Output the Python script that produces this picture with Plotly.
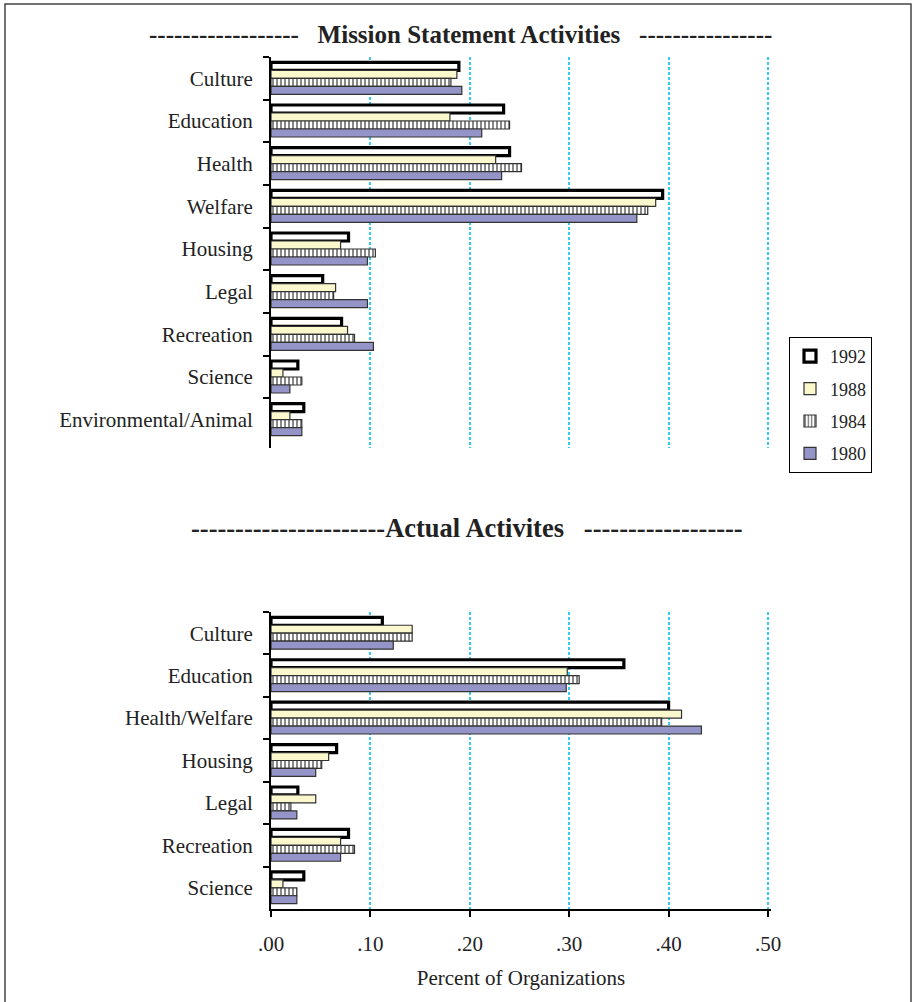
import plotly.graph_objects as go

# ---------------- data ----------------
years = ["1992", "1988", "1984", "1980"]

mission_categories = ["Culture", "Education", "Health", "Welfare", "Housing",
                      "Legal", "Recreation", "Science", "Environmental/Animal"]
mission_1992 = [0.189, 0.234, 0.240, 0.394, 0.078, 0.052, 0.071, 0.027, 0.033]
mission_1988 = [0.187, 0.180, 0.226, 0.387, 0.070, 0.065, 0.077, 0.012, 0.019]
mission_1984 = [0.181, 0.240, 0.252, 0.379, 0.105, 0.063, 0.084, 0.031, 0.031]
mission_1980 = [0.192, 0.212, 0.232, 0.368, 0.097, 0.097, 0.103, 0.019, 0.031]

actual_categories = ["Culture", "Education", "Health/Welfare", "Housing",
                     "Legal", "Recreation", "Science"]
actual_1992 = [0.112, 0.355, 0.400, 0.066, 0.027, 0.078, 0.033]
actual_1988 = [0.142, 0.298, 0.413, 0.058, 0.045, 0.070, 0.012]
actual_1984 = [0.142, 0.310, 0.393, 0.051, 0.020, 0.084, 0.026]
actual_1980 = [0.123, 0.297, 0.433, 0.045, 0.026, 0.070, 0.026]

x_tickvals = [0.0, 0.1, 0.2, 0.3, 0.4, 0.5]
x_ticktext = [".00", ".10", ".20", ".30", ".40", ".50"]

title_top = "------------------   Mission Statement Activities   ----------------"
title_bottom = "----------------------Actual Activites   ------------------"
x_title = "Percent of Organizations"

# ---------------- layout geometry ----------------
W, H = 914, 1002
ML, MR, MT, MB = 271, 143, 57, 93
PW, PH = W - ML - MR, H - MT - MB
X_MAX = 0.503  # small headroom so the .50 gridline is drawn


def px_x(px):
    return (px - ML) / PW


def px_y(py):
    return (H - MB - py) / PH


FONT = "Liberation Serif, Times New Roman, serif"
TXT = "#222222"

styles = {
    "1992": dict(color="white", line=dict(color="black", width=3.2)),
    "1988": dict(color="#FAF8CC", line=dict(color="#333333", width=1.2)),
    "1984": dict(color="white", line=dict(color="#333333", width=1.2),
                 pattern=dict(shape="|", fgcolor="#111111", bgcolor="white",
                              size=4, solidity=0.5)),
    "1980": dict(color="#9494C8", line=dict(color="#333333", width=1.2)),
}

mission_series = [mission_1992, mission_1988, mission_1984, mission_1980]
actual_series = [actual_1992, actual_1988, actual_1984, actual_1980]

fig = go.Figure()
for yr, vals in zip(years, mission_series):
    fig.add_trace(go.Bar(
        y=mission_categories, x=vals, orientation="h", name=yr,
        marker=styles[yr], xaxis="x", yaxis="y",
        legendgroup=yr, showlegend=True))
for yr, vals in zip(years, actual_series):
    fig.add_trace(go.Bar(
        y=actual_categories, x=vals, orientation="h", name=yr,
        marker=styles[yr], xaxis="x2", yaxis="y2",
        legendgroup=yr, showlegend=False))

grid_color = "#33CCF5"
common_x = dict(range=[0, X_MAX], showgrid=True, gridcolor=grid_color,
                griddash="3px,2px", gridwidth=1.6, zeroline=False,
                tickvals=x_tickvals)
common_y = dict(showline=True, linecolor="black", linewidth=2,
                ticks="outside", ticklen=6, tickwidth=2, tickcolor="black",
                tickson="boundaries", showgrid=False, zeroline=False,
                tickfont=dict(family=FONT, size=21, color=TXT),
                ticklabelstandoff=12)

top_bottom_px = 448
bottom_top_px = 612
n_top = len(mission_categories)
extra = (top_bottom_px - 441) / ((441 - MT) / n_top)

fig.update_layout(
    width=W, height=H,
    margin=dict(l=ML, r=MR, t=MT, b=MB),
    paper_bgcolor="white", plot_bgcolor="white",
    barmode="group", bargap=0.25, bargroupgap=0,
    font=dict(family=FONT, color=TXT),
    xaxis=dict(common_x, anchor="y", showticklabels=False, ticks="",
               showline=False),
    yaxis=dict(common_y, domain=[px_y(top_bottom_px), 1],
               range=[n_top - 0.5 + extra, -0.5], anchor="x"),
    xaxis2=dict(common_x, anchor="y2", showline=True, linecolor="black",
                linewidth=2, ticks="outside", ticklen=6, tickwidth=2,
                tickcolor="black", ticktext=x_ticktext,
                tickfont=dict(family=FONT, size=21, color=TXT),
                ticklabelstandoff=9,
                title=dict(text=x_title, standoff=15,
                           font=dict(family=FONT, size=21, color=TXT))),
    yaxis2=dict(common_y, domain=[0, px_y(bottom_top_px)],
                range=[len(actual_categories) - 0.5, -0.5], anchor="x2"),
    legend=dict(x=px_x(789), y=px_y(337), xanchor="left", yanchor="top",
                bordercolor="black", borderwidth=1, bgcolor="white",
                font=dict(family=FONT, size=18, color=TXT),
                tracegroupgap=6, itemwidth=30),
    annotations=[
        dict(text="<b>" + title_top + "</b>", x=px_x(460.5), y=px_y(35),
             xref="paper", yref="paper", xanchor="center", yanchor="middle",
             showarrow=False, font=dict(family=FONT, size=25, color=TXT)),
        dict(text="<b>" + title_bottom + "</b>", x=px_x(466.5), y=px_y(528),
             xref="paper", yref="paper", xanchor="center", yanchor="middle",
             showarrow=False, font=dict(family=FONT, size=26.5, color=TXT)),
    ],
    shapes=[
        dict(type="rect", xref="paper", yref="paper",
             x0=px_x(5), x1=px_x(911), y0=px_y(1010), y1=px_y(4),
             line=dict(color="#444444", width=1.5),
             fillcolor="rgba(0,0,0,0)", layer="below"),
    ],
)

fig.write_html("out.html")
